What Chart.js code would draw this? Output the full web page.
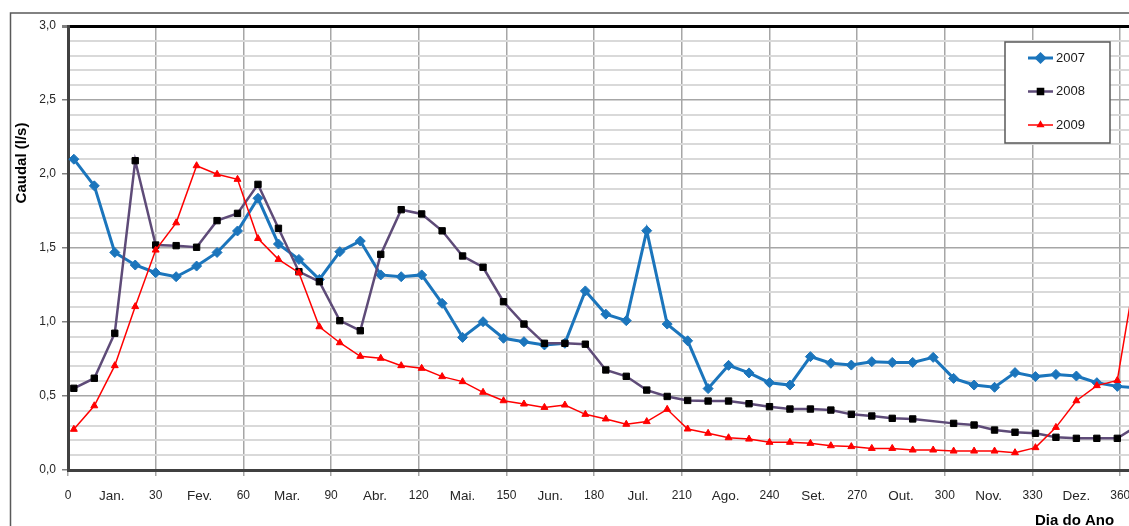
<!DOCTYPE html>
<html>
<head>
<meta charset="utf-8">
<script src="https://cdn.jsdelivr.net/npm/chart.js@4/dist/chart.umd.min.js"></script>
<style>
  html, body { margin: 0; padding: 0; background: #fff; }
  #wrap { width: 1129px; height: 526px; position: relative; }
</style>
</head>
<body>
<div id="wrap"><canvas id="caudalChart"></canvas></div>
<script>
// dia do ano de cada medição (semanal)
const days = [2, 9, 16, 23, 30, 37, 44, 51, 58, 65, 72, 79, 86, 93, 100, 107, 114, 121, 128, 135,
  142, 149, 156, 163, 170, 177, 184, 191, 198, 205, 212, 219, 226, 233, 240, 247, 254, 261, 268, 275,
  282, 289, 296, 303, 310, 317, 324, 331, 338, 345, 352, 359, 366];

const caudal2007 = [2.10, 1.92, 1.47, 1.385, 1.333, 1.306, 1.378, 1.47, 1.615, 1.836, 1.527, 1.423, 1.288, 1.475, 1.547, 1.318, 1.306, 1.318, 1.126, 0.896,
  1.002, 0.89, 0.867, 0.845, 0.856, 1.21, 1.053, 1.009, 1.617, 0.986, 0.873, 0.55, 0.707, 0.656, 0.59, 0.574, 0.766, 0.721, 0.709, 0.732,
  0.727, 0.727, 0.761, 0.619, 0.574, 0.559, 0.658, 0.631, 0.646, 0.635, 0.59, 0.565, 0.555];

const caudal2008 = [0.552, 0.62, 0.924, 2.09, 1.52, 1.516, 1.505, 1.685, 1.734, 1.93, 1.633, 1.34, 1.272, 1.009, 0.941, 1.457, 1.759, 1.73, 1.616, 1.446,
  1.37, 1.137, 0.986, 0.856, 0.856, 0.85, 0.676, 0.633, 0.54, 0.497, 0.47, 0.466, 0.466, 0.448, 0.428, 0.412, 0.412, 0.405, 0.376, 0.365,
  0.349, 0.345, null, 0.315, 0.304, 0.27, 0.255, 0.248, 0.221, 0.214, 0.214, 0.214, 0.30];

const caudal2009 = [0.275, 0.434, 0.705, 1.104, 1.486, 1.67, 2.056, 1.998, 1.964, 1.564, 1.423, 1.333, 0.968, 0.86, 0.768, 0.755, 0.705, 0.687, 0.631, 0.597,
  0.525, 0.468, 0.446, 0.423, 0.439, 0.376, 0.345, 0.309, 0.327, 0.41, 0.277, 0.248, 0.218, 0.209, 0.187, 0.187, 0.18, 0.164, 0.158, 0.146,
  0.146, 0.135, 0.135, 0.128, 0.128, 0.128, 0.117, 0.151, 0.288, 0.468, 0.57, 0.605, 1.43];

const months = ['Jan.', 'Fev.', 'Mar.', 'Abr.', 'Mai.', 'Jun.', 'Jul.', 'Ago.', 'Set.', 'Out.', 'Nov.', 'Dez.'];

const toPoints = vals => days.map((d, i) => ({ x: d, y: vals[i] }));
const FONT = "'Liberation Sans', Arial, sans-serif";

// moldura exterior e títulos dos eixos
const frameAndTitles = {
  id: 'frameAndTitles',
  beforeDraw(chart) {
    const ctx = chart.ctx;
    ctx.save();
    ctx.fillStyle = '#fff';
    ctx.fillRect(0, 0, chart.width, chart.height);
    ctx.strokeStyle = '#595959';
    ctx.lineWidth = 1.5;
    ctx.strokeRect(10.5, 13, chart.width + 20, chart.height + 20);
    ctx.restore();
  },
  afterDraw(chart) {
    const ctx = chart.ctx;
    ctx.save();
    ctx.fillStyle = '#000';
    ctx.font = "bold 15px " + FONT;
    ctx.textAlign = 'center';
    ctx.textBaseline = 'middle';
    ctx.translate(22, 163);
    ctx.rotate(-Math.PI / 2);
    ctx.fillText('Caudal (l/s)', 0, 0);
    ctx.restore();

    ctx.save();
    ctx.fillStyle = '#000';
    ctx.font = "bold 15px " + FONT;
    ctx.textAlign = 'left';
    ctx.textBaseline = 'middle';
    ctx.fillText('Dia do Ano', 1035, 521);
    ctx.restore();
  }
};

// legenda em caixa dentro da área do gráfico
const boxLegend = {
  id: 'boxLegend',
  afterDatasetsDraw(chart) {
    const ctx = chart.ctx;
    const x0 = 1005, y0 = 42, w = 105, h = 101;
    ctx.save();
    ctx.fillStyle = '#fff';
    ctx.fillRect(x0, y0, w, h);
    ctx.strokeStyle = '#595959';
    ctx.lineWidth = 1.5;
    ctx.strokeRect(x0, y0, w, h);
    chart.data.datasets.forEach((ds, i) => {
      const y = y0 + 16 + i * 33.5;
      ctx.strokeStyle = ds.borderColor;
      ctx.lineWidth = ds.borderWidth;
      ctx.beginPath();
      ctx.moveTo(x0 + 23, y);
      ctx.lineTo(x0 + 48, y);
      ctx.stroke();
      ctx.fillStyle = ds.pointBackgroundColor;
      ctx.strokeStyle = ds.pointBorderColor;
      Chart.helpers.drawPoint(ctx, {
        pointStyle: ds.pointStyle,
        radius: ds.pointRadius * 0.8,
        rotation: 0,
        borderWidth: 1
      }, x0 + 35.5, y);
      ctx.fillStyle = '#1a1a1a';
      ctx.font = '13px ' + FONT;
      ctx.textAlign = 'left';
      ctx.textBaseline = 'middle';
      ctx.fillText(ds.label, x0 + 51, y);
    });
    ctx.restore();
  }
};

new Chart(document.getElementById('caudalChart'), {
  type: 'line',
  data: {
    datasets: [
      {
        label: '2007',
        data: toPoints(caudal2007),
        borderColor: '#1B75BC',
        borderWidth: 3,
        pointStyle: 'rectRot',
        pointRadius: 5,
        pointBackgroundColor: '#1B75BC',
        pointBorderColor: '#1B75BC',
        pointBorderWidth: 1,
        order: 2
      },
      {
        label: '2008',
        data: toPoints(caudal2008),
        borderColor: '#5E4B78',
        borderWidth: 2.5,
        pointStyle: 'rect',
        pointRadius: 4.5,
        pointBackgroundColor: '#000',
        pointBorderColor: '#000',
        pointBorderWidth: 1,
        spanGaps: true,
        order: 1
      },
      {
        label: '2009',
        data: toPoints(caudal2009),
        borderColor: '#FF0000',
        borderWidth: 1.5,
        pointStyle: 'triangle',
        pointRadius: 4,
        pointBackgroundColor: '#FF0000',
        pointBorderColor: '#FF0000',
        pointBorderWidth: 1,
        order: 0
      }
    ]
  },
  options: {
    responsive: true,
    maintainAspectRatio: false,
    animation: false,
    layout: { autoPadding: false, padding: { top: 26, left: 0, right: 0, bottom: 0 } },
    elements: { line: { tension: 0 } },
    plugins: {
      legend: { display: false },
      tooltip: { enabled: false }
    },
    scales: {
      x: {
        type: 'linear',
        min: 0,
        max: 363,
        afterFit: scale => {
          scale.height = 56;
          scale.paddingLeft = 0;
          scale.paddingRight = 0;
        },
        border: { color: '#404040', width: 3 },
        grid: {
          color: ctx => (ctx.tick && ctx.tick.value % 30 === 0) ? '#a6a6a6' : 'rgba(0,0,0,0)',
          lineWidth: 1.5,
          tickLength: 6
        },
        ticks: {
          stepSize: 15,
          includeBounds: false,
          autoSkip: false,
          maxRotation: 0,
          padding: 12,
          color: '#262626',
          font: ctx => (ctx.tick && ctx.tick.value % 30 === 0)
            ? { family: FONT, size: 12 }
            : { family: FONT, size: 13.5 },
          callback: v => v % 30 === 0 ? String(v) : months[(v - 15) / 30]
        }
      },
      y: {
        min: 0,
        max: 3,
        afterFit: scale => {
          scale.width = 68;
          scale.paddingTop = 0;
          scale.paddingBottom = 0;
        },
        border: { color: '#404040', width: 3 },
        grid: {
          color: ctx => {
            const t = Math.round(ctx.tick.value * 10);
            if (t === 30) return '#000';
            return t % 5 === 0 ? '#a6a6a6' : '#d9d9d9';
          },
          lineWidth: ctx => {
            const t = Math.round(ctx.tick.value * 10);
            if (t === 30) return 3;
            return t % 5 === 0 ? 1.5 : 2;
          },
          tickColor: ctx => Math.round(ctx.tick.value * 10) % 5 === 0 ? '#808080' : 'rgba(0,0,0,0)',
          tickLength: 6
        },
        ticks: {
          stepSize: 0.1,
          autoSkip: false,
          padding: 6,
          color: '#262626',
          font: { family: FONT, size: 12 },
          callback: v => Math.round(v * 10) % 5 === 0 ? v.toFixed(1).replace('.', ',') : ''
        }
      }
    }
  },
  plugins: [frameAndTitles, boxLegend]
});
</script>
</body>
</html>
